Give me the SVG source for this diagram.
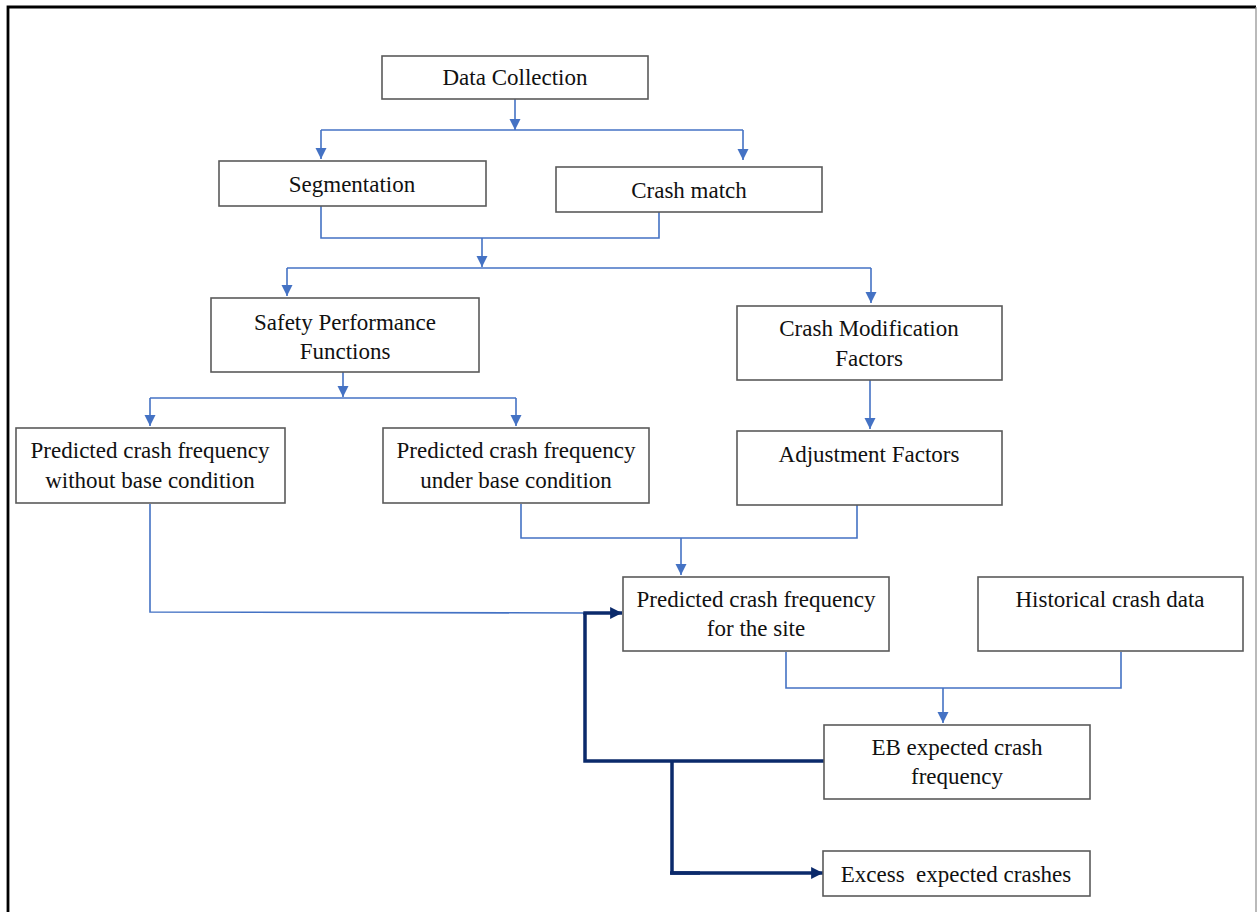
<svg xmlns="http://www.w3.org/2000/svg" width="1257" height="912" viewBox="0 0 1257 912">
  <style>
    .box { fill: #ffffff; stroke: #5a5a5a; stroke-width: 1.6; }
    .lbl { font-family: "Liberation Serif", "Times New Roman", serif; font-size: 23px; fill: #111111; text-anchor: middle; }
    .flow { fill: none; stroke: #4472C4; stroke-width: 1.6; }
    .flowArrow { fill: none; stroke: #4472C4; stroke-width: 1.6; marker-end: url(#arrowLight); }
    .path { fill: none; stroke: #0B2A6B; stroke-width: 3.5; stroke-linejoin: miter; }
    .pathArrow { fill: none; stroke: #0B2A6B; stroke-width: 3.5; marker-end: url(#arrowDark); }
  </style>
  <defs>
    <marker id="arrowLight" viewBox="0 0 10 10" refX="10" refY="5" markerWidth="7" markerHeight="7" orient="auto" markerUnits="strokeWidth">
      <path d="M0,0 L10,5 L0,10 z" fill="#4472C4"/>
    </marker>
    <marker id="arrowDark" viewBox="0 0 10 10" refX="10" refY="5" markerWidth="3.8" markerHeight="3.4" orient="auto" markerUnits="strokeWidth">
      <path d="M0,0 L10,5 L0,10 z" fill="#0B2A6B"/>
    </marker>
  </defs>

  <!-- page frame -->
  <rect x="0" y="0" width="1257" height="912" fill="#ffffff"/>
  <path d="M8,920 L8,7 L1256,7" fill="none" stroke="#000000" stroke-width="2.8"/>
  <line x1="1256" y1="7" x2="1256" y2="912" stroke="#8c8c8c" stroke-width="1.2"/>

  <!-- connectors -->
  <g id="connectors">
    <!-- Data Collection split -->
    <line class="flowArrow" x1="515" y1="99" x2="515" y2="130"/>
    <line class="flow" x1="321" y1="130" x2="743" y2="130"/>
    <line class="flowArrow" x1="321" y1="130" x2="321" y2="159"/>
    <line class="flowArrow" x1="743" y1="130" x2="743" y2="160"/>
    <!-- Segmentation + Crash match merge -->
    <polyline class="flow" points="321,206 321,238 659,238 659,211"/>
    <line class="flowArrow" x1="482" y1="238" x2="482" y2="267"/>
    <line class="flow" x1="287" y1="268" x2="871" y2="268"/>
    <line class="flowArrow" x1="287" y1="268" x2="287" y2="296"/>
    <line class="flowArrow" x1="871" y1="268" x2="871" y2="303"/>
    <!-- SPF split -->
    <line class="flowArrow" x1="343" y1="372" x2="343" y2="397"/>
    <line class="flow" x1="150" y1="398" x2="516" y2="398"/>
    <line class="flowArrow" x1="150" y1="398" x2="150" y2="426"/>
    <line class="flowArrow" x1="516" y1="398" x2="516" y2="426"/>
    <!-- CMF to Adjustment -->
    <line class="flowArrow" x1="870" y1="380" x2="870" y2="429"/>
    <!-- base condition + adjustment merge -->
    <polyline class="flow" points="521,504 521,538 857,538 857,505"/>
    <line class="flowArrow" x1="681" y1="538" x2="681" y2="575"/>
    <!-- without base condition to site -->
    <polyline class="flow" points="150,504 150,612 586,613"/>
    <!-- site + historical merge -->
    <polyline class="flow" points="786,652 786,688 1121,688 1121,652"/>
    <line class="flowArrow" x1="943" y1="688" x2="943" y2="723"/>
    <!-- EB feedback paths -->
    <polyline class="path" points="824,761 585,761 585,613"/>
    <line class="pathArrow" x1="583.3" y1="613" x2="622" y2="613"/>
    <polyline class="path" points="672,761 672,873 700,873"/>
    <line class="pathArrow" x1="670" y1="873" x2="823" y2="873"/>
  </g>

  <g id="data-collection">
    <rect class="box" x="382" y="56" width="266" height="43"/>
    <text class="lbl" x="515" y="85">Data Collection</text>
  </g>
  <g id="segmentation">
    <rect class="box" x="219" y="161" width="267" height="45"/>
    <text class="lbl" x="352" y="192">Segmentation</text>
  </g>
  <g id="crash-match">
    <rect class="box" x="556" y="167" width="266" height="45"/>
    <text class="lbl" x="689" y="198">Crash match</text>
  </g>
  <g id="spf">
    <rect class="box" x="211" y="298" width="268" height="74"/>
    <text class="lbl" x="345" y="330">Safety Performance</text>
    <text class="lbl" x="345" y="359">Functions</text>
  </g>
  <g id="cmf">
    <rect class="box" x="737" y="306" width="265" height="74"/>
    <text class="lbl" x="869" y="336">Crash Modification</text>
    <text class="lbl" x="869" y="366">Factors</text>
  </g>
  <g id="without-base">
    <rect class="box" x="16" y="428" width="269" height="75"/>
    <text class="lbl" x="150" y="458">Predicted crash frequency</text>
    <text class="lbl" x="150" y="488">without base condition</text>
  </g>
  <g id="under-base">
    <rect class="box" x="383" y="428" width="266" height="75"/>
    <text class="lbl" x="516" y="458">Predicted crash frequency</text>
    <text class="lbl" x="516" y="488">under base condition</text>
  </g>
  <g id="adjustment">
    <rect class="box" x="737" y="431" width="265" height="74"/>
    <text class="lbl" x="869" y="462">Adjustment Factors</text>
  </g>
  <g id="site">
    <rect class="box" x="623" y="577" width="266" height="74"/>
    <text class="lbl" x="756" y="607">Predicted crash frequency</text>
    <text class="lbl" x="756" y="636">for the site</text>
  </g>
  <g id="historical">
    <rect class="box" x="978" y="577" width="265" height="74"/>
    <text class="lbl" x="1110" y="607">Historical crash data</text>
  </g>
  <g id="eb">
    <rect class="box" x="824" y="725" width="266" height="74"/>
    <text class="lbl" x="957" y="755">EB expected crash</text>
    <text class="lbl" x="957" y="784">frequency</text>
  </g>
  <g id="excess">
    <rect class="box" x="823" y="851" width="267" height="45"/>
    <text class="lbl" x="956" y="882" xml:space="preserve">Excess  expected crashes</text>
  </g>
</svg>
